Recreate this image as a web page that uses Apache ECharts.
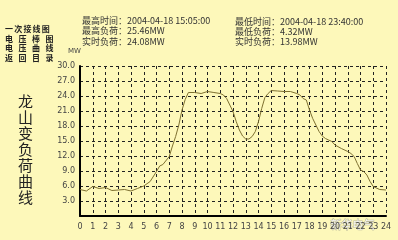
<!DOCTYPE html>
<html>
<head>
<meta charset="utf-8">
<script src="https://cdn.jsdelivr.net/npm/echarts@6/dist/echarts.min.js"></script>
<style>
html,body{margin:0;padding:0;background:#FDF8BA;}
#c{width:398px;height:240px;}
</style>
</head>
<body>
<div id="c"></div>
<script>
var hours = [0,0.5,1,1.5,2,2.5,3,3.5,4,4.5,5,5.5,6,6.25,6.5,7,7.25,7.5,7.75,8,8.25,8.5,9,9.5,10,10.5,11,11.25,11.5,11.75,12,12.25,12.5,12.75,13,13.25,13.5,13.75,14,14.25,14.5,14.75,15,15.5,16,16.5,17,17.25,17.5,17.75,18,18.25,18.5,18.75,19,19.25,19.5,19.75,20,20.5,21,21.25,21.5,21.75,22,22.25,22.5,22.75,23,23.5,24];
var loads = [5.3,5.0,5.9,5.5,5.7,5.1,5.2,5.3,5.0,5.5,6.0,6.9,8.9,10.0,10.3,11.9,14.0,15.9,18.2,21.2,23.3,24.7,24.7,24.5,24.9,24.7,24.5,24.2,23.5,22.2,20.9,18.9,17.2,16.0,15.4,15.4,15.9,16.9,18.9,21.5,23.7,24.5,25.1,25.0,24.9,24.9,24.5,24.2,23.5,23.2,21.2,19.5,18.2,16.9,16.0,15.5,15.2,14.9,14.2,13.5,12.9,12.5,11.9,10.5,9.2,8.9,8.2,6.9,5.9,5.3,5.2];
var yTicks = ['3.0','6.0','9.0','12.0','15.0','18.0','21.0','24.0','27.0','30.0'];
var menuItems = ['一次接线图','电压棒图','电压曲线','返回目录'];
var infoLeft = ['最高时间：2004-04-18 15:05:00','最高负荷：25.46MW','实时负荷：24.08MW'];
var infoRight = ['最低时间：2004-04-18 23:40:00','最低负荷：4.32MW','实时负荷：13.98MW'];
var title = '龙山变负荷曲线';

var data = hours.map(function(h,i){return [h, loads[i]];});
var chart = echarts.init(document.getElementById('c'));
var g = [];
menuItems.forEach(function(t,i){
  var chars = t.split('');
  var step = chars.length === 5 ? 9.2 : 13.5;
  chars.forEach(function(ch,j){
    g.push({type:'text', left: 5 + j*step, top: 25 + i*9.5, style:{text:ch, font:'bold 8px "Noto Sans CJK SC"', fill:'#222'}});
  });
});
infoLeft.forEach(function(t,i){
  g.push({type:'text', left: 82, top: 16 + i*10.5, style:{text:t, font:'9px "Noto Sans CJK SC"', fill:'#333'}});
});
infoRight.forEach(function(t,i){
  g.push({type:'text', left: 235, top: 17 + i*10.2, style:{text:t, font:'9px "Noto Sans CJK SC"', fill:'#333'}});
});
title.split('').forEach(function(ch,i){
  g.push({type:'text', left: 18, top: 94 + i*16, style:{text:ch, font:'15px "Noto Sans CJK SC"', fill:'#222'}});
});
g.push({type:'text', left: 68, top: 48, style:{text:'MW', font:'7px "DejaVu Sans"', fill:'#444'}});
g.push({type:'text', left: 330, top: 219, style:{text:'新华电气', font:'11px "Noto Sans CJK SC"', fill:'rgba(255,255,255,0.85)', stroke:'rgba(120,120,120,0.5)', lineWidth:1}});

chart.setOption({
  backgroundColor:'#FDF8BA',
  animation:false,
  grid:{left:80, right:12, top:66, bottom:24},
  xAxis:{type:'value', min:0, max:24, interval:1,
    axisLine:{show:true, lineStyle:{color:'#000', width:2}},
    axisTick:{show:false},
    axisLabel:{color:'#444', fontSize:8, fontFamily:'DejaVu Sans', margin:7},
    splitLine:{show:true, lineStyle:{color:'#222', type:[3,3], width:1}}
  },
  yAxis:{type:'value', min:0, max:30, interval:3,
    axisLine:{show:true, lineStyle:{color:'#000', width:2}},
    axisTick:{show:false},
    axisLabel:{color:'#444', fontSize:8, fontFamily:'DejaVu Sans', margin:5,
      formatter:function(v){var i=yTicks.indexOf(v.toFixed(1)); return i>=0?yTicks[i]:'';}},
    splitLine:{show:true, lineStyle:{color:'#222', type:[3,3], width:1}}
  },
  series:[{type:'line', data:data, showSymbol:false, lineStyle:{color:'#7E7030', width:1}}],
  graphic:g
});
</script>
</body>
</html>
